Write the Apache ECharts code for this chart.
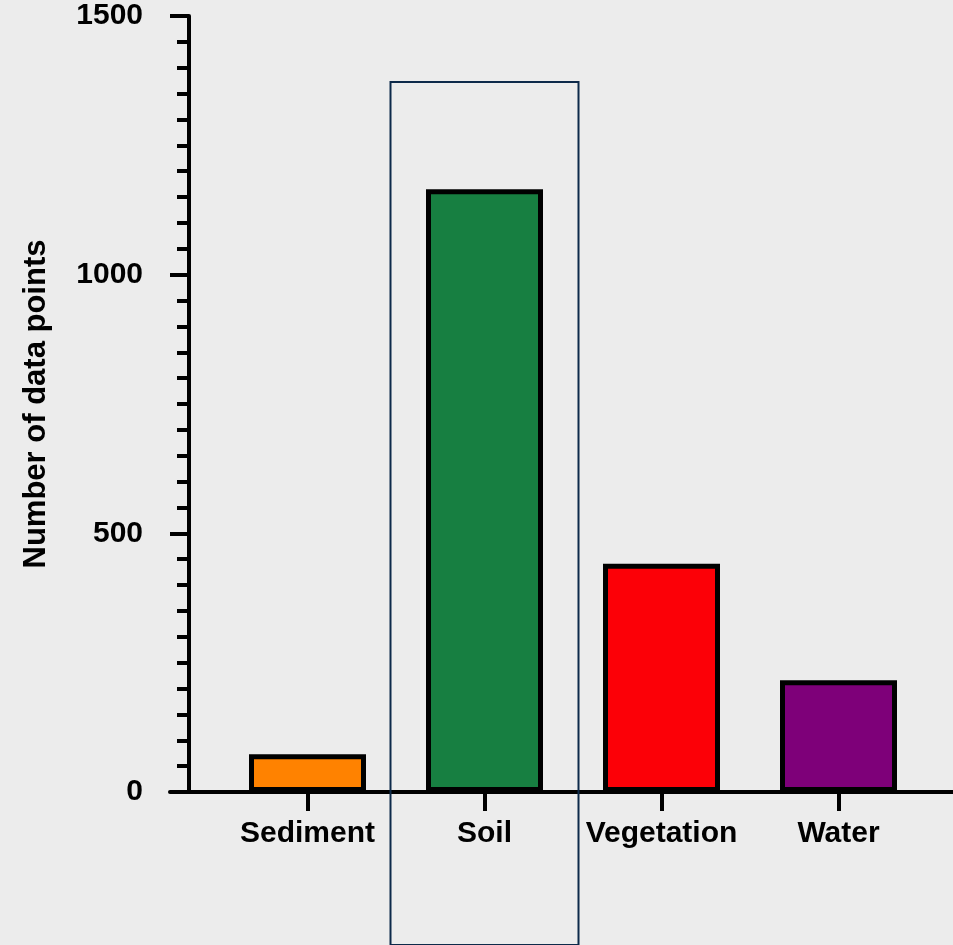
<!DOCTYPE html>
<html>
<head>
<meta charset="utf-8">
<script src="https://cdn.jsdelivr.net/npm/echarts@6/dist/echarts.min.js"></script>
<style>
html,body{margin:0;padding:0;background:#ececec;}
#c{width:953px;height:945px;}
</style>
</head>
<body>
<div id="c"></div>
<script>
var categories = ['Sediment', 'Soil', 'Vegetation', 'Water'];
var values = [73, 1165, 441, 216];
var barColors = ['#ff8200', '#177f41', '#fc0007', '#7e0079'];
var yTicks = [0, 500, 1000, 1500];
var yTitle = 'Number of data points';
var highlighted = 'Soil';

var FONT = '"Liberation Sans", Arial, Helvetica, sans-serif';
var chart = echarts.init(document.getElementById('c'), null, {renderer: 'canvas'});

var option = {
  backgroundColor: '#ececec',
  animation: false,
  grid: [
    {left: 219, right: 26, top: 16, bottom: 153, containLabel: false},
    {left: 170, right: 0, top: 16, bottom: 153, containLabel: false}
  ],
  xAxis: [
    {
      type: 'category', gridIndex: 0, data: categories,
      axisLine: {show: false},
      axisTick: {show: true, alignWithLabel: true, length: 19, lineStyle: {color: '#000', width: 4}},
      axisLabel: {interval: 0, color: '#000', fontFamily: FONT, fontWeight: 'bold', fontSize: 30, margin: 27}
    },
    {
      type: 'value', gridIndex: 1, min: 0, max: 1,
      axisLine: {show: true, onZero: false, lineStyle: {color: '#000', width: 4}},
      axisTick: {show: false}, axisLabel: {show: false}, splitLine: {show: false}
    }
  ],
  yAxis: [
    {
      type: 'value', gridIndex: 0, min: yTicks[0], max: yTicks[yTicks.length - 1], interval: 500,
      offset: 30,
      name: yTitle, nameLocation: 'middle', nameGap: 137,
      nameTextStyle: {color: '#000', fontFamily: FONT, fontWeight: 'bold', fontSize: 31},
      axisLine: {show: true, lineStyle: {color: '#000', width: 4}},
      axisTick: {show: true, length: 19, lineStyle: {color: '#000', width: 4}},
      minorTick: {show: true, splitNumber: 10, length: 12, lineStyle: {color: '#000', width: 4}},
      axisLabel: {color: '#000', fontFamily: FONT, fontWeight: 'bold', fontSize: 30, margin: 46,
        formatter: function (v) { return String(v); }},
      splitLine: {show: false}
    },
    {
      type: 'value', gridIndex: 1, min: 0, max: 1, show: false
    }
  ],
  series: [{
    type: 'bar', xAxisIndex: 0, yAxisIndex: 0,
    barWidth: 117,
    z: 3,
    data: values.map(function (v, i) {
      return {value: v, itemStyle: {color: barColors[i], borderColor: '#000', borderWidth: 5}};
    })
  }]
};
chart.setOption(option);

var cx = chart.convertToPixel({xAxisIndex: 0}, highlighted);
var topY = 82;
chart.setOption({
  graphic: [{
    type: 'rect', z: 10, silent: true,
    shape: {x: cx - 94, y: topY, width: 188, height: 945 - topY},
    style: {fill: 'none', stroke: '#0d2a4a', lineWidth: 2}
  }]
});
</script>
</body>
</html>
